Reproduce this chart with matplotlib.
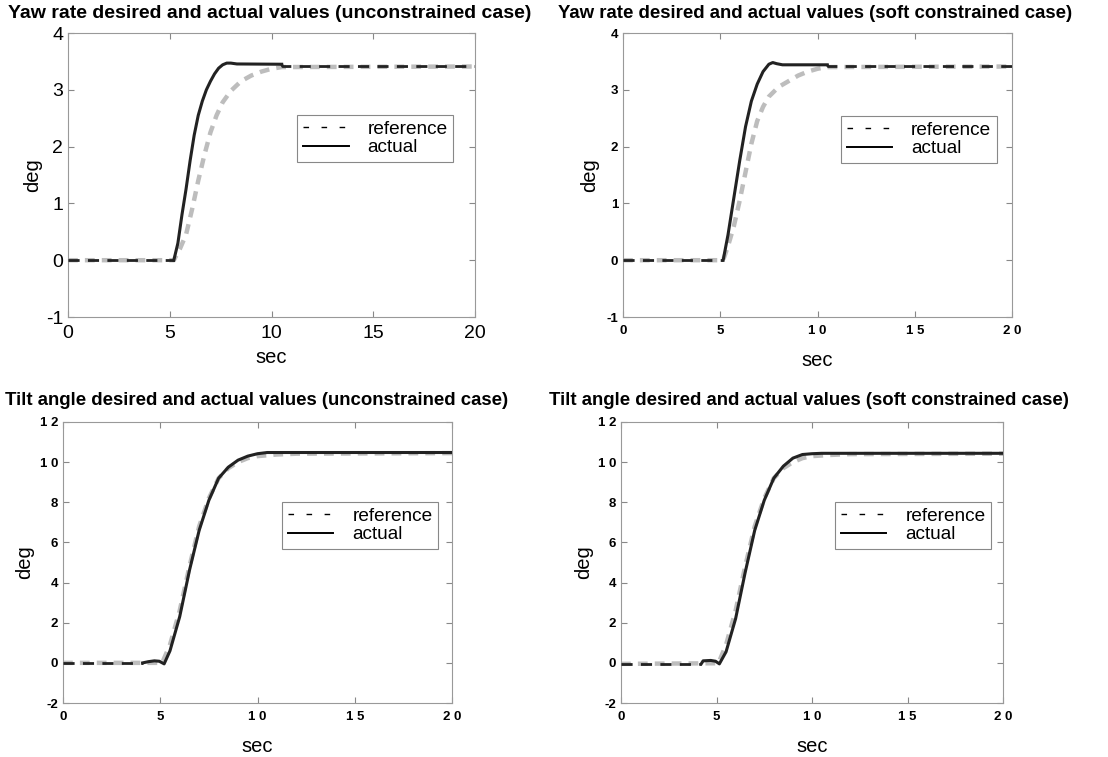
import numpy as np
import matplotlib.pyplot as plt

plt.rcParams['font.family'] = ['Liberation Sans', 'DejaVu Sans']

# ---- data ----
# yaw rate, unconstrained
yaw_u_ref_t = [0, 5.2, 5.5, 5.8, 6.1, 6.4, 6.7, 7.0, 7.3, 7.6, 8.0, 8.5, 9.0, 9.5, 10.0, 10.5, 20]
yaw_u_ref_v = [0, 0, 0.2, 0.45, 0.9, 1.4, 1.85, 2.25, 2.55, 2.78, 2.98, 3.15, 3.25, 3.32, 3.37, 3.40, 3.41]
yaw_u_act_t = [0, 5.2, 5.4, 5.6, 5.8, 6.0, 6.2, 6.4, 6.6, 6.8, 7.0, 7.2, 7.4, 7.6, 7.8, 8.0, 8.3, 10.5, 10.55, 20]
yaw_u_act_v = [0, 0, 0.3, 0.8, 1.25, 1.75, 2.2, 2.55, 2.8, 3.0, 3.15, 3.28, 3.38, 3.44, 3.47, 3.47, 3.455, 3.45, 3.41, 3.41]

# yaw rate, soft constrained
yaw_s_ref_t = [0, 5.15, 5.4, 5.7, 6.0, 6.3, 6.6, 6.9, 7.2, 7.5, 8.0, 8.5, 9.0, 9.5, 10.0, 10.5, 20]
yaw_s_ref_v = [0, 0, 0.25, 0.6, 1.05, 1.55, 2.05, 2.45, 2.7, 2.88, 3.05, 3.15, 3.25, 3.32, 3.37, 3.40, 3.41]
yaw_s_act_t = [0, 5.15, 5.4, 5.7, 6.0, 6.3, 6.6, 6.9, 7.2, 7.5, 7.7, 7.9, 8.2, 10.5, 10.55, 20]
yaw_s_act_v = [0, 0, 0.45, 1.1, 1.75, 2.35, 2.8, 3.1, 3.32, 3.45, 3.48, 3.46, 3.44, 3.44, 3.41, 3.41]

# tilt angle, unconstrained
tilt_u_ref_t = [0, 5.1, 5.5, 6.0, 6.5, 7.0, 7.5, 8.0, 8.5, 9.0, 9.5, 10.0, 11.0, 12.0, 20]
tilt_u_ref_v = [0, 0, 0.9, 2.6, 4.8, 6.8, 8.2, 9.2, 9.7, 10.0, 10.2, 10.3, 10.38, 10.42, 10.45]
tilt_u_act_t = [0, 4.1, 4.4, 4.7, 4.95, 5.2, 5.5, 6.0, 6.5, 7.0, 7.5, 8.0, 8.5, 9.0, 9.5, 10.0, 10.5, 20]
tilt_u_act_v = [0, 0, 0.06, 0.1, 0.08, -0.05, 0.6, 2.3, 4.6, 6.6, 8.1, 9.2, 9.75, 10.1, 10.3, 10.42, 10.48, 10.48]

# tilt angle, soft constrained
tilt_s_ref_t = [0, 5.1, 5.5, 6.0, 6.5, 7.0, 7.5, 8.0, 8.5, 9.0, 9.5, 10.0, 11.0, 12.0, 20]
tilt_s_ref_v = [-0.05, -0.02, 0.9, 2.6, 4.8, 6.8, 8.2, 9.2, 9.7, 10.0, 10.2, 10.3, 10.36, 10.4, 10.42]
tilt_s_act_t = [0, 4.2, 4.3, 4.7, 4.95, 5.15, 5.5, 6.0, 6.5, 7.0, 7.5, 8.0, 8.5, 9.0, 9.5, 10.0, 10.5, 20]
tilt_s_act_v = [-0.05, -0.05, 0.1, 0.12, 0.08, -0.05, 0.55, 2.2, 4.5, 6.6, 8.1, 9.2, 9.8, 10.2, 10.38, 10.42, 10.44, 10.44]

titles = [
    "Yaw rate desired and actual values (unconstrained case)",
    "Yaw rate desired and actual values (soft constrained case)",
    "Tilt angle desired and actual values (unconstrained case)",
    "Tilt angle desired and actual values (soft constrained case)",
]

W, H = 1108, 757
fig = plt.figure(figsize=(W / 100, H / 100), dpi=100)

# axes boxes in pixels: left, top, right, bottom
boxes = [(68, 33, 475, 317), (623, 33, 1012, 317), (63, 422, 452, 703), (621, 422, 1003, 703)]
axs = []
for l, t, r, b in boxes:
    axs.append(fig.add_axes([l / W, (H - b) / H, (r - l) / W, (b - t) / H]))

panels = [
    (yaw_u_ref_t, yaw_u_ref_v, yaw_u_act_t, yaw_u_act_v, (5.2, 10.5)),
    (yaw_s_ref_t, yaw_s_ref_v, yaw_s_act_t, yaw_s_act_v, (5.15, 10.5)),
    (tilt_u_ref_t, tilt_u_ref_v, tilt_u_act_t, tilt_u_act_v, (4.1, 20)),
    (tilt_s_ref_t, tilt_s_ref_v, tilt_s_act_t, tilt_s_act_v, (4.2, 20)),
]
legend_pos = [(0.563, 0.711), (0.56, 0.708), (0.563, 0.715), (0.56, 0.715)]
ylabel_x = [-0.088, -0.085, -0.098, -0.099]
xlabel_pad = [4, 10, 10, 10]
# title centre (x, y) in pixels and size
title_xy = [(270, 13, 14.0), (815, 13, 13.4), (257, 400, 13.4), (809, 400, 13.4)]

for i, ax in enumerate(axs):
    rt, rv, at, av, (s0, s1) = panels[i]
    at = np.array(at)
    av = np.array(av)
    ax.plot(rt, rv, color='#bdbdbd', lw=3.2, ls=(0, (2.2, 1.6)), zorder=2)
    # actual: solid where it leaves the reference, dashed where both overlap
    solid = (at >= s0) & (at <= s1)
    ax.plot(at[solid], av[solid], color='#222222', lw=2.2, zorder=3)
    for part in (at <= s0, at >= s1):
        if part.sum() > 1:
            ax.plot(at[part], av[part], color='#222222', lw=2.0, ls=(0, (4, 3)), zorder=3)

    # legend proxies
    ax.plot([], [], color='black', lw=1, ls=(0, (4, 9)), label='reference')
    ax.plot([], [], color='black', lw=1.4, label='actual')
    lg = ax.legend(loc='upper left', bbox_to_anchor=legend_pos[i], fontsize=13.7,
                   fancybox=False, framealpha=1, edgecolor='#888888', borderpad=0.3,
                   handlelength=2.4, handletextpad=1.0, labelspacing=0.05,
                   borderaxespad=0)
    lg.get_frame().set_linewidth(0.8)

    ax.set_xlim(0, 20)
    ax.set_xticks([0, 5, 10, 15, 20])
    ax.tick_params(direction='in', top=True, right=True, length=4, color='#888888')
    for sp in ax.spines.values():
        sp.set_color('#999999')
        sp.set_linewidth(0.8)

    tx, ty, ts = title_xy[i]
    fig.text(tx / W, 1 - ty / H, titles[i], fontsize=ts, fontweight='bold',
             ha='center', va='center')
    ax.set_xlabel('sec', fontsize=14.5, labelpad=xlabel_pad[i])
    ax.set_ylabel('deg', fontsize=14.5, va='center')
    ax.yaxis.set_label_coords(ylabel_x[i], 0.5)

# tick labels
axs[0].set_ylim(-1, 4)
axs[0].set_yticks([-1, 0, 1, 2, 3, 4])
axs[0].set_xticklabels(['0', '5', '10', '15', '20'], fontsize=14)
axs[0].set_yticklabels(['-1', '0', '1', '2', '3', '4'], fontsize=14)
axs[0].tick_params(axis='x', pad=6)

spaced_x = ['0', '5', '1 0', '1 5', '2 0']
axs[1].set_ylim(-1, 4)
axs[1].set_yticks([-1, 0, 1, 2, 3, 4])
axs[1].set_yticklabels(['-1', '0', '1', '2', '3', '4'], fontsize=9.5, fontweight='bold')
for ax in axs[1:]:
    ax.set_xticklabels(spaced_x, fontsize=9.5, fontweight='bold')
    ax.tick_params(axis='x', pad=6)
for ax in axs[2:]:
    ax.set_ylim(-2, 12)
    ax.set_yticks([-2, 0, 2, 4, 6, 8, 10, 12])
    ax.set_yticklabels(['-2', '0', '2', '4', '6', '8', '1 0', '1 2'], fontsize=9.5, fontweight='bold')

plt.savefig('out.png', dpi=100)
